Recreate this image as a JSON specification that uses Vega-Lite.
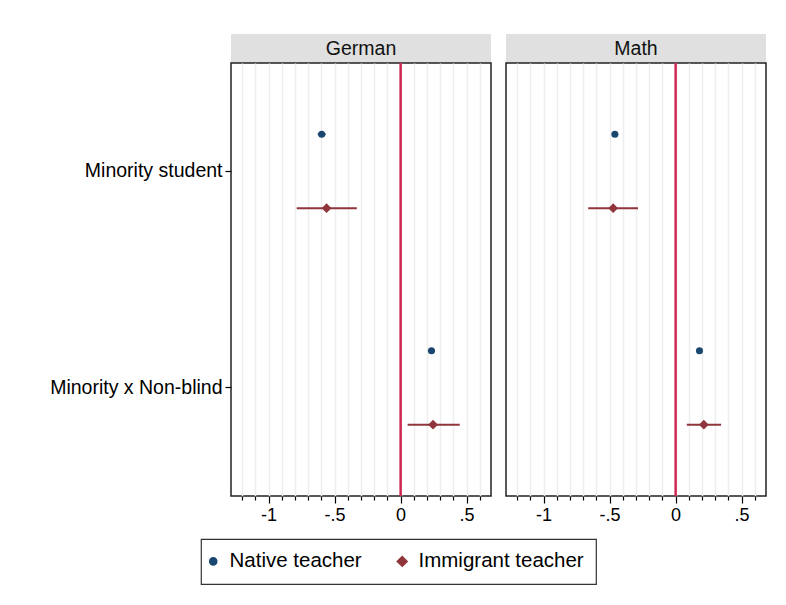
{
  "$schema": "https://vega.github.io/schema/vega-lite/v6.json",
  "padding": {"left": 48, "top": 34, "right": 5, "bottom": 5},
  "background": "white",
  "datasets": {
    "est": [
      {"subject": "German", "term": "Minority student", "teacher": "Native teacher", "est": -0.598, "lo": -0.628, "hi": -0.568},
      {"subject": "German", "term": "Minority student", "teacher": "Immigrant teacher", "est": -0.561, "lo": -0.787, "hi": -0.332},
      {"subject": "German", "term": "Minority x Non-blind", "teacher": "Native teacher", "est": 0.234, "lo": 0.207, "hi": 0.261},
      {"subject": "German", "term": "Minority x Non-blind", "teacher": "Immigrant teacher", "est": 0.246, "lo": 0.053, "hi": 0.448},
      {"subject": "Math", "term": "Minority student", "teacher": "Native teacher", "est": -0.46, "lo": -0.48, "hi": -0.44},
      {"subject": "Math", "term": "Minority student", "teacher": "Immigrant teacher", "est": -0.473, "lo": -0.662, "hi": -0.285},
      {"subject": "Math", "term": "Minority x Non-blind", "teacher": "Native teacher", "est": 0.181, "lo": 0.161, "hi": 0.201},
      {"subject": "Math", "term": "Minority x Non-blind", "teacher": "Immigrant teacher", "est": 0.214, "lo": 0.085, "hi": 0.345}
    ],
    "panels": [{"subject": "German"}, {"subject": "Math"}]
  },
  "hconcat": [
    {
      "vconcat": [
        {
          "data": {"name": "panels"},
          "transform": [{"filter": "datum.subject === 'German'"}],
          "width": 260,
          "height": 29,
          "view": {"fill": "#e0e0e0", "stroke": null},
          "mark": {"type": "text", "font": "Liberation Sans", "fontSize": 19.5, "color": "#111111"},
          "encoding": {"text": {"field": "subject", "type": "nominal"}}
        },
        {
          "data": {"name": "est"},
          "transform": [{"filter": "datum.subject === 'German'"}],
          "width": 260,
          "height": 433,
          "encoding": {
            "y": {
              "field": "term", "type": "nominal",
              "sort": ["Minority student", "Minority x Non-blind"],
              "scale": {"type": "band", "paddingInner": 0, "paddingOuter": 0},
              "axis": {"title": null, "labelFontSize": 19.5, "labelFont": "Liberation Sans", "labelColor": "#000000", "tickSize": 6, "tickColor": "#000000", "tickWidth": 1.2, "labelPadding": 3, "domain": false, "grid": false}
            },
            "yOffset": {
              "field": "teacher", "type": "nominal",
              "sort": ["Native teacher", "Immigrant teacher"],
              "scale": {"type": "point", "padding": 0.963}
            }
          },
          "layer": [
            {
              "mark": {"type": "rule", "color": "#cc2952", "strokeWidth": 1.6},
              "encoding": {"x": {"datum": 0, "type": "quantitative"}, "y": null, "yOffset": null}
            },
            {
              "mark": {"type": "rule", "strokeWidth": 2},
              "encoding": {
                "x": {"field": "lo", "type": "quantitative"},
                "x2": {"field": "hi"},
                "color": {"field": "teacher", "type": "nominal"}
              }
            },
            {
              "mark": {"type": "point", "filled": true, "opacity": 1},
              "encoding": {
                "x": {
                  "field": "est", "type": "quantitative",
                  "scale": {"domain": [-1.285, 0.685], "nice": false, "zero": false},
                  "axis": {
                    "title": null,
                    "values": [-1.2, -1.1, -1, -0.9, -0.8, -0.7, -0.6, -0.5, -0.4, -0.3, -0.2, -0.1, 0, 0.1, 0.2, 0.3, 0.4, 0.5, 0.6],
                    "tickCount": 30,
                    "labelExpr": "datum.value === -1 ? '-1' : datum.value === -0.5 ? '-.5' : datum.value === 0 ? '0' : datum.value === 0.5 ? '.5' : ''",
                    "labelFontSize": 18, "labelFont": "Liberation Sans", "labelColor": "#000000",
                    "labelPadding": 3, "labelOverlap": false, "labelFlush": false,
                    "domain": false, "grid": true, "gridColor": "#eeeeee", "gridWidth": 1.5,
                    "tickColor": "#000000", "tickWidth": 1.2,
                    "tickSize": {"condition": {"test": "datum.value === -1 || datum.value === -0.5 || datum.value === 0 || datum.value === 0.5", "value": 7}, "value": 4}
                  }
                },
                "color": {
                  "field": "teacher", "type": "nominal",
                  "scale": {"domain": ["Native teacher", "Immigrant teacher"], "range": ["#1a476f", "#90353b"]},
                  "legend": {"title": null}
                },
                "shape": {
                  "field": "teacher", "type": "nominal",
                  "scale": {"domain": ["Native teacher", "Immigrant teacher"], "range": ["circle", "diamond"]},
                  "legend": {"title": null}
                },
                "size": {
                  "field": "teacher", "type": "nominal",
                  "scale": {"domain": ["Native teacher", "Immigrant teacher"], "range": [50, 95]},
                  "legend": {"title": null}
                }
              }
            }
          ]
        }
      ],
      "spacing": 0,
      "bounds": "flush"
    },
    {
      "vconcat": [
        {
          "data": {"name": "panels"},
          "transform": [{"filter": "datum.subject === 'Math'"}],
          "width": 260,
          "height": 29,
          "view": {"fill": "#e0e0e0", "stroke": null},
          "mark": {"type": "text", "font": "Liberation Sans", "fontSize": 19.5, "color": "#111111"},
          "encoding": {"text": {"field": "subject", "type": "nominal"}}
        },
        {
          "data": {"name": "est"},
          "transform": [{"filter": "datum.subject === 'Math'"}],
          "width": 260,
          "height": 433,
          "encoding": {
            "y": {
              "field": "term", "type": "nominal",
              "sort": ["Minority student", "Minority x Non-blind"],
              "scale": {"type": "band", "paddingInner": 0, "paddingOuter": 0},
              "axis": null
            },
            "yOffset": {
              "field": "teacher", "type": "nominal",
              "sort": ["Native teacher", "Immigrant teacher"],
              "scale": {"type": "point", "padding": 0.963}
            }
          },
          "layer": [
            {
              "mark": {"type": "rule", "color": "#cc2952", "strokeWidth": 1.6},
              "encoding": {"x": {"datum": 0, "type": "quantitative"}, "y": null, "yOffset": null}
            },
            {
              "mark": {"type": "rule", "strokeWidth": 2},
              "encoding": {
                "x": {"field": "lo", "type": "quantitative"},
                "x2": {"field": "hi"},
                "color": {"field": "teacher", "type": "nominal"}
              }
            },
            {
              "mark": {"type": "point", "filled": true, "opacity": 1},
              "encoding": {
                "x": {
                  "field": "est", "type": "quantitative",
                  "scale": {"domain": [-1.285, 0.685], "nice": false, "zero": false},
                  "axis": {
                    "title": null,
                    "values": [-1.2, -1.1, -1, -0.9, -0.8, -0.7, -0.6, -0.5, -0.4, -0.3, -0.2, -0.1, 0, 0.1, 0.2, 0.3, 0.4, 0.5, 0.6],
                    "tickCount": 30,
                    "labelExpr": "datum.value === -1 ? '-1' : datum.value === -0.5 ? '-.5' : datum.value === 0 ? '0' : datum.value === 0.5 ? '.5' : ''",
                    "labelFontSize": 18, "labelFont": "Liberation Sans", "labelColor": "#000000",
                    "labelPadding": 3, "labelOverlap": false, "labelFlush": false,
                    "domain": false, "grid": true, "gridColor": "#eeeeee", "gridWidth": 1.5,
                    "tickColor": "#000000", "tickWidth": 1.2,
                    "tickSize": {"condition": {"test": "datum.value === -1 || datum.value === -0.5 || datum.value === 0 || datum.value === 0.5", "value": 7}, "value": 4}
                  }
                },
                "color": {
                  "field": "teacher", "type": "nominal",
                  "scale": {"domain": ["Native teacher", "Immigrant teacher"], "range": ["#1a476f", "#90353b"]},
                  "legend": {"title": null}
                },
                "shape": {
                  "field": "teacher", "type": "nominal",
                  "scale": {"domain": ["Native teacher", "Immigrant teacher"], "range": ["circle", "diamond"]},
                  "legend": {"title": null}
                },
                "size": {
                  "field": "teacher", "type": "nominal",
                  "scale": {"domain": ["Native teacher", "Immigrant teacher"], "range": [50, 95]},
                  "legend": {"title": null}
                }
              }
            }
          ]
        }
      ],
      "spacing": 0,
      "bounds": "flush"
    }
  ],
  "spacing": 13,
  "config": {
    "font": "Liberation Sans",
    "view": {"stroke": "#222222", "strokeWidth": 1.5},
    "legend": {
      "orient": "none",
      "legendX": -30,
      "legendY": 505,
      "direction": "horizontal",
      "strokeColor": "#333333",
      "strokeWidth": 1.2,
      "padding": 12,
      "labelFont": "Liberation Sans",
      "labelFontSize": 20.5,
      "labelColor": "#000000",
      "labelLimit": 400,
      "labelOffset": 6,
      "symbolOffset": -10,
      "columnPadding": 32
    }
  }
}
